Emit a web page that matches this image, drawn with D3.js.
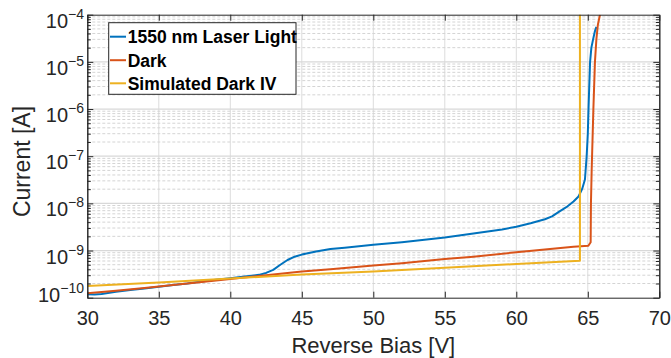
<!DOCTYPE html>
<html>
<head>
<meta charset="utf-8">
<script src="https://cdn.jsdelivr.net/npm/d3@7"></script>
<style>
  html, body { margin: 0; padding: 0; background: #fff; }
  svg { display: block; font-family: "Liberation Sans", Arial, sans-serif; }
</style>
</head>
<body>
<svg id="chart" width="671" height="358"></svg>
<script>
// ---------- data ----------
const seriesNames = ["1550 nm Laser Light", "Dark", "Simulated Dark IV"];
const seriesColors = ["#0072BD", "#D95319", "#EDB120"];

const laserVolts = [30, 30.5, 31, 32, 33, 34, 35, 36, 37, 38, 39, 40, 41, 42, 42.5, 43, 43.5, 44, 44.5, 45, 46, 47, 48, 50, 52, 55, 57, 59, 60, 61, 62, 62.5, 63, 63.5, 64, 64.35, 64.6, 64.8, 64.92, 65.0, 65.05, 65.1, 65.16, 65.25, 65.37, 65.5, 65.6];
const laserCurrent = [1.18e-10, 1.17e-10, 1.2e-10, 1.33e-10, 1.45e-10, 1.57e-10, 1.7e-10, 1.85e-10, 2.0e-10, 2.2e-10, 2.4e-10, 2.6e-10, 2.8e-10, 3.05e-10, 3.35e-10, 3.9e-10, 5.0e-10, 6.3e-10, 7.4e-10, 8.2e-10, 9.5e-10, 1.08e-9, 1.15e-9, 1.32e-9, 1.5e-9, 1.9e-9, 2.3e-9, 2.8e-9, 3.2e-9, 3.8e-9, 4.6e-9, 5.3e-9, 6.7e-9, 8.3e-9, 1.1e-8, 1.4e-8, 2.0e-8, 3.2e-8, 1e-7, 3e-7, 1e-6, 3e-6, 1e-5, 2e-5, 3e-5, 4.5e-5, 5.5e-5];

const darkVolts = [30, 32, 34, 36, 38, 40, 42, 44, 45, 47, 50, 52, 55, 57, 60, 62, 64, 65.04, 65.2, 65.22, 65.27, 65.39, 65.5, 65.6, 65.7, 65.85];
const darkCurrent = [1.24e-10, 1.4e-10, 1.6e-10, 1.85e-10, 2.15e-10, 2.5e-10, 2.9e-10, 3.35e-10, 3.6e-10, 4.0e-10, 4.8e-10, 5.4e-10, 6.6e-10, 7.4e-10, 9.2e-10, 1.05e-9, 1.2e-9, 1.26e-9, 1.5e-9, 1e-8, 5e-8, 1e-6, 1e-5, 3e-5, 6e-5, 1e-4];

const simVolts = [30, 35, 40, 45, 50, 55, 60, 64.45, 64.45];
const simCurrent = [1.78e-10, 2.1e-10, 2.55e-10, 3.1e-10, 3.6e-10, 4.3e-10, 5.2e-10, 6.1e-10, 2e-4];

const xTicks = [30, 35, 40, 45, 50, 55, 60, 65, 70];
const yTickExps = [-10, -9, -8, -7, -6, -5, -4];
const xLabel = "Reverse Bias [V]";
const yLabel = "Current [A]";

// ---------- layout ----------
const L = 87.3, R = 659.3, T = 14.7, B = 297.7;
const svg = d3.select("#chart");
const x = d3.scaleLinear().domain([30, 70]).range([L, R]);
const y = d3.scaleLog().domain([1e-10, 1e-4]).range([B, T]);
const axisColor = "#262626";

// minor values
const minorVals = [];
yTickExps.slice(0, -1).forEach(e => { for (let m = 2; m <= 9; m++) minorVals.push(m * Math.pow(10, e)); });
const majorVals = yTickExps.map(e => Math.pow(10, e));

// ---------- grid ----------
const grid = svg.append("g");
grid.selectAll(".vg").data(xTicks.slice(1, -1)).enter().append("line")
  .attr("x1", d => x(d)).attr("x2", d => x(d)).attr("y1", T).attr("y2", B)
  .attr("stroke", "#dcdcdc").attr("stroke-width", 1);
grid.selectAll(".hmin").data(minorVals).enter().append("line")
  .attr("x1", L).attr("x2", R).attr("y1", d => y(d)).attr("y2", d => y(d))
  .attr("stroke", "#d4d4d4").attr("stroke-width", 1).attr("stroke-dasharray", "3,2");
grid.selectAll(".hmaj").data(majorVals.slice(1, -1)).enter().append("line")
  .attr("x1", L).attr("x2", R).attr("y1", d => y(d)).attr("y2", d => y(d))
  .attr("stroke", "#d8d8d8").attr("stroke-width", 1.2);

// ---------- lines ----------
svg.append("clipPath").attr("id", "clip").append("rect")
  .attr("x", L).attr("y", T).attr("width", R - L).attr("height", B - T);
const line = d3.line().x(d => x(d[0])).y(d => y(d[1]));
const seriesData = [
  d3.zip(laserVolts, laserCurrent),
  d3.zip(darkVolts, darkCurrent),
  d3.zip(simVolts, simCurrent)
];
const plot = svg.append("g").attr("clip-path", "url(#clip)");
seriesData.forEach((s, i) => {
  plot.append("path").datum(s).attr("d", line)
    .attr("fill", "none").attr("stroke", seriesColors[i]).attr("stroke-width", 2)
    .attr("stroke-linejoin", "round");
});

// ---------- axes ----------
const fs = 20;
const gx = svg.append("g").attr("transform", `translate(0,${B})`)
  .call(d3.axisBottom(x).tickValues(xTicks).tickSizeInner(-6).tickSizeOuter(0).tickPadding(13).tickFormat(d3.format("d")));
const gxTop = svg.append("g").attr("transform", `translate(0,${T})`)
  .call(d3.axisTop(x).tickValues(xTicks).tickSizeInner(-6).tickSizeOuter(0).tickFormat(""));
const gy = svg.append("g").attr("transform", `translate(${L},0)`)
  .call(d3.axisLeft(y).tickValues(majorVals).tickSizeInner(-6).tickSizeOuter(0).tickFormat(""));
const gyMin = svg.append("g").attr("transform", `translate(${L},0)`)
  .call(d3.axisLeft(y).tickValues(minorVals).tickSizeInner(-3.5).tickSizeOuter(0).tickFormat(""));
const gyR = svg.append("g").attr("transform", `translate(${R},0)`)
  .call(d3.axisRight(y).tickValues(majorVals).tickSizeInner(-6).tickSizeOuter(0).tickFormat(""));
const gyRMin = svg.append("g").attr("transform", `translate(${R},0)`)
  .call(d3.axisRight(y).tickValues(minorVals).tickSizeInner(-3.5).tickSizeOuter(0).tickFormat(""));
[gx, gxTop, gy, gyMin, gyR, gyRMin].forEach(g => {
  g.selectAll("path,line").attr("stroke", axisColor).attr("stroke-width", 1);
  g.selectAll("text").attr("fill", axisColor).attr("font-size", fs)
    .attr("font-family", "'Liberation Sans', Arial, sans-serif");
});

// y tick labels with superscripts
const yl = svg.append("g").attr("fill", axisColor);
yTickExps.forEach((e, i) => {
  const yy = y(Math.pow(10, e)) + (e === -10 ? 4.5 : 13);
  const t = yl.append("text").attr("x", 84).attr("y", yy).attr("text-anchor", "end")
    .attr("font-size", fs);
  t.append("tspan").text("10");
  t.append("tspan").attr("font-size", 14).attr("dy", -9).text("\u2212" + Math.abs(e));
});

// axis labels
svg.append("text").attr("x", (L + R) / 2).attr("y", 352.7).attr("text-anchor", "middle")
  .attr("font-size", 22).attr("fill", axisColor).text(xLabel);
svg.append("text").attr("transform", `translate(30,161.5) rotate(-90)`)
  .attr("text-anchor", "middle").attr("font-size", 23).attr("fill", axisColor).text(yLabel);

// ---------- legend ----------
const lg = svg.append("g");
lg.append("rect").attr("x", 108.7).attr("y", 22.7).attr("width", 187.3).attr("height", 71.6)
  .attr("fill", "#fff").attr("stroke", axisColor).attr("stroke-width", 1);
const rowY = [36.7, 60.2, 83.3];
seriesNames.forEach((n, i) => {
  lg.append("line").attr("x1", 110).attr("x2", 126).attr("y1", rowY[i]).attr("y2", rowY[i])
    .attr("stroke", seriesColors[i]).attr("stroke-width", 2);
  lg.append("text").attr("x", 127.7).attr("y", rowY[i] + 6.3).attr("font-size", 17.5)
    .attr("font-weight", "bold").attr("fill", "#000").text(n);
});
</script>
</body>
</html>
